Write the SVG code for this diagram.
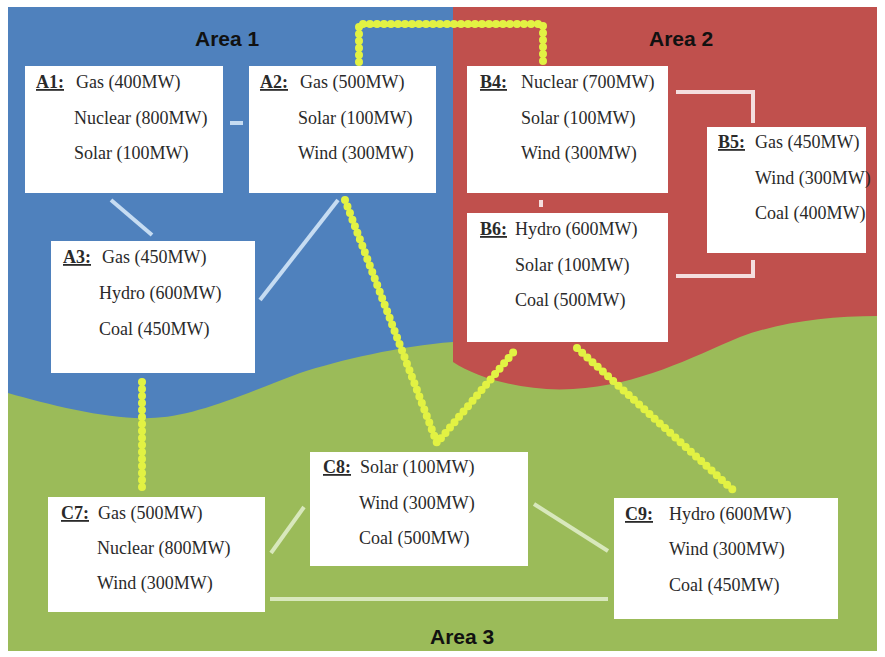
<svg xmlns="http://www.w3.org/2000/svg" width="885" height="657" viewBox="0 0 885 657">
<style>
.box{fill:#ffffff}
.t{font-family:"Liberation Serif","Times New Roman",serif;font-size:18px;fill:#2a2a2a}
.lb{font-family:"Liberation Serif","Times New Roman",serif;font-size:18px;font-weight:bold;text-decoration:underline;fill:#2a2a2a}
.area{font-family:"Liberation Sans",Arial,sans-serif;font-size:21px;font-weight:bold;fill:#111}
.tie{fill:none;stroke:#e2f243;stroke-width:8;stroke-linecap:round;stroke-linejoin:round;stroke-dasharray:0 7}
.lbl{fill:none;stroke:#c6dcf2;stroke-width:4}
.lpk{fill:none;stroke:#f4dede;stroke-width:4}
.lgr{fill:none;stroke:#d8e8bc;stroke-width:4}
</style>
<rect x="0" y="0" width="885" height="657" fill="#ffffff"/>
<g id="background">
<rect x="8" y="7" width="869" height="644" fill="#9bbb59"/>
<path d="M8,7 H453 V342 C400,346 340,360 300,373 C240,396 190,418 150,418 C110,420 50,405 8,393 Z" fill="#4f81bd"/>
<path d="M453,7 H877 V316 C830,316 780,322 740,337 C690,358 640,385 573,389 C530,392 480,380 453,362 Z" fill="#c0504d"/>
</g>
<g id="areas">
<text class="area" x="195" y="46">Area 1</text>
<text class="area" x="649" y="46">Area 2</text>
<text class="area" x="430" y="644">Area 3</text>
</g>
<g id="connectors">
<line class="lbl" x1="230" y1="123" x2="243" y2="123"/>
<line class="lbl" x1="111" y1="200" x2="152" y2="235"/>
<line class="lbl" x1="260" y1="300" x2="338" y2="200"/>
<path class="lpk" d="M676,92 H753 V123"/>
<line class="lpk" x1="541" y1="200" x2="541" y2="207"/>
<path class="lpk" d="M676,276 H753 V260"/>
<line class="lgr" x1="271" y1="553" x2="304" y2="507"/>
<line class="lgr" x1="534" y1="504" x2="608" y2="551"/>
<line class="lgr" x1="270" y1="599" x2="608" y2="599"/>
<path class="tie" d="M359,62 V24 H543 V62"/>
<path class="tie" d="M345,200 L437,443 L517,348"/>
<line class="tie" x1="577" y1="348" x2="733" y2="490"/>
<line class="tie" x1="142" y1="382" x2="142" y2="490"/>
</g>
<g id="A1">
<rect class="box" x="25" y="66" width="198" height="127"/>
<text class="lb" x="36" y="88">A1:</text>
<text class="t" x="76" y="88">Gas (400MW)</text>
<text class="t" x="74" y="124">Nuclear (800MW)</text>
<text class="t" x="74" y="159">Solar (100MW)</text>
</g>
<g id="A2">
<rect class="box" x="249" y="66" width="187" height="127"/>
<text class="lb" x="260" y="88">A2:</text>
<text class="t" x="300" y="88">Gas (500MW)</text>
<text class="t" x="298" y="124">Solar (100MW)</text>
<text class="t" x="298" y="159">Wind (300MW)</text>
</g>
<g id="A3">
<rect class="box" x="51" y="241" width="204" height="132"/>
<text class="lb" x="63" y="263">A3:</text>
<text class="t" x="102" y="263">Gas (450MW)</text>
<text class="t" x="99" y="299">Hydro (600MW)</text>
<text class="t" x="99" y="335">Coal (450MW)</text>
</g>
<g id="B4">
<rect class="box" x="467" y="66" width="201" height="127"/>
<text class="lb" x="480" y="88">B4:</text>
<text class="t" x="521" y="88">Nuclear (700MW)</text>
<text class="t" x="521" y="124">Solar (100MW)</text>
<text class="t" x="521" y="159">Wind (300MW)</text>
</g>
<g id="B5">
<rect class="box" x="707" y="127" width="159" height="126"/>
<text class="lb" x="718" y="148">B5:</text>
<text class="t" x="755" y="148">Gas (450MW)</text>
<text class="t" x="755" y="184">Wind (300MW)</text>
<text class="t" x="755" y="219">Coal (400MW)</text>
</g>
<g id="B6">
<rect class="box" x="467" y="213" width="201" height="129"/>
<text class="lb" x="480" y="235">B6:</text>
<text class="t" x="515" y="235">Hydro (600MW)</text>
<text class="t" x="515" y="271">Solar (100MW)</text>
<text class="t" x="515" y="306">Coal (500MW)</text>
</g>
<g id="C7">
<rect class="box" x="48" y="497" width="217" height="115"/>
<text class="lb" x="61" y="519">C7:</text>
<text class="t" x="98" y="519">Gas (500MW)</text>
<text class="t" x="97" y="554">Nuclear (800MW)</text>
<text class="t" x="97" y="589">Wind (300MW)</text>
</g>
<g id="C8">
<rect class="box" x="310" y="452" width="218" height="114"/>
<text class="lb" x="323" y="473">C8:</text>
<text class="t" x="360" y="473">Solar (100MW)</text>
<text class="t" x="359" y="509">Wind (300MW)</text>
<text class="t" x="359" y="544">Coal (500MW)</text>
</g>
<g id="C9">
<rect class="box" x="614" y="498" width="224" height="121"/>
<text class="lb" x="625" y="520">C9:</text>
<text class="t" x="669" y="520">Hydro (600MW)</text>
<text class="t" x="669" y="555">Wind (300MW)</text>
<text class="t" x="669" y="591">Coal (450MW)</text>
</g>
</svg>
